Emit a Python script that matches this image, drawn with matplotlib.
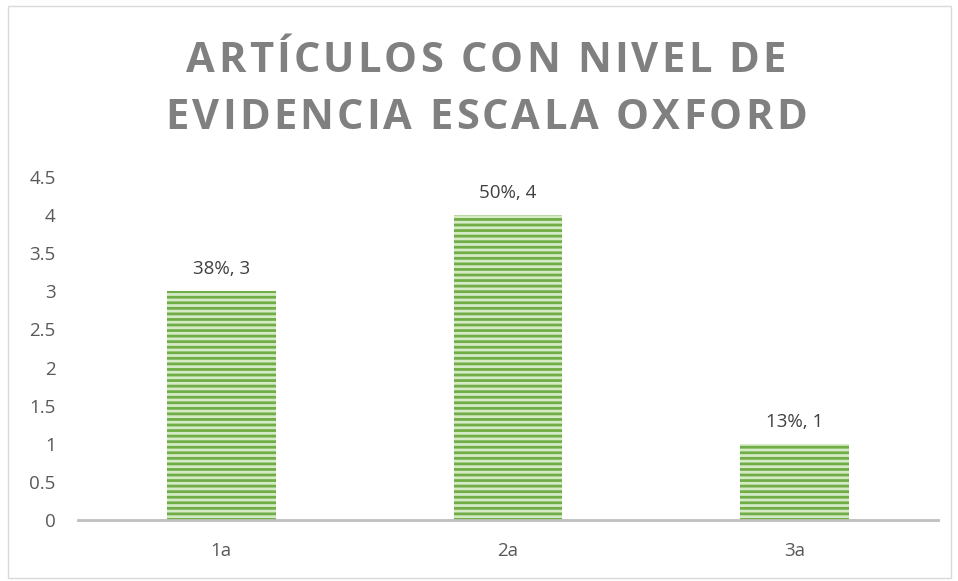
import matplotlib
matplotlib.use("Agg")
import matplotlib.pyplot as plt
from matplotlib.patches import Rectangle
from matplotlib.font_manager import FontProperties

categories = ["1a", "2a", "3a"]
values = [3, 4, 1]
labels = ["38%, 3", "50%, 4", "13%, 1"]
yticks = [0, 0.5, 1, 1.5, 2, 2.5, 3, 3.5, 4, 4.5]
title_lines = ["ARTÍCULOS CON NIVEL DE", "EVIDENCIA ESCALA OXFORD"]

W, H = 958, 581
plt.rcParams["hatch.linewidth"] = 2.0
fig = plt.figure(figsize=(W/100, H/100), dpi=100)
fig.patches.append(Rectangle((8/W, 1-578/H), 943/W, 572/H, transform=fig.transFigure,
                             fill=False, edgecolor="#d9d9d9", linewidth=1))

ax = fig.add_axes([78/W, 1-520/H, (938-78)/W, (520-177)/H])
x = range(len(categories))
ax.bar(x, values, width=0.38, facecolor="#d5ebc6", edgecolor="#70ad47", hatch="---", linewidth=0)
for xi, v, lab in zip(x, values, labels):
    ax.text(xi, v + 0.17, lab, ha="center", va="bottom", fontsize=13.5, color="#404040",
            family="Open Sans")
ax.set_xlim(-0.5, 2.5)
ax.set_ylim(0, 4.5)
ax.set_yticks(yticks)
ax.set_yticklabels([f"{t:g}" for t in yticks], family="Open Sans", fontsize=13.5, color="#595959")
ax.set_xticks(list(x))
ax.set_xticklabels(categories, family="Open Sans", fontsize=13.5, color="#595959")
for s in ["top", "right", "left"]:
    ax.spines[s].set_visible(False)
ax.spines["bottom"].set_color("#bfbfbf")
ax.spines["bottom"].set_linewidth(2)
ax.tick_params(axis="x", length=0, pad=16)
ax.tick_params(axis="y", length=0, pad=16)

# letter-spaced title
prop = FontProperties(family="Open Sans", weight="bold", size=30)
renderer = fig.canvas.get_renderer()
targets = [(596, 72), (641, 129)]  # (width px, baseline px from top)
cx = 486
widths_per_line = []
for line in title_lines:
    ws = [renderer.get_text_width_height_descent(c, prop, ismath=False)[0] for c in line]
    widths_per_line.append(ws)
ws2 = widths_per_line[1]
track = (641 - sum(ws2)) / (len(ws2) - 1)
for line, ws, (_, base) in zip(title_lines, widths_per_line, targets):
    total = sum(ws) + track * (len(ws) - 1)
    xpos = cx - total / 2
    for c, w in zip(line, ws):
        fig.text(xpos / W, 1 - base / H, c, fontproperties=prop, color="#808080",
                 ha="left", va="baseline")
        xpos += w + track

fig.savefig("out.png", dpi=100)
